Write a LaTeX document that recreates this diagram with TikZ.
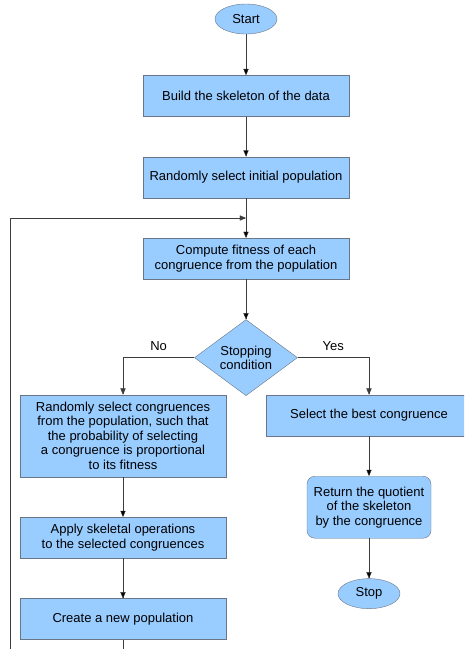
\documentclass[tikz,border=0pt]{standalone}
\usepackage{fontspec}
\setmainfont{Liberation Sans}
\usepackage{tikz}
\usetikzlibrary{calc,arrows,positioning,shapes.geometric}

\definecolor{boxfill}{RGB}{153,204,255}
\definecolor{boxline}{RGB}{105,118,135}
\definecolor{arrline}{RGB}{60,60,60}

\begin{document}
\begin{tikzpicture}[node distance=40pt, auto,
    font=\fontsize{13}{14.5}\selectfont,
    box/.style={draw=boxline, fill=boxfill, rectangle, minimum width=206pt, minimum height=41pt, align=center, inner sep=2pt},
    endpoint/.style={draw=boxline, fill=boxfill, ellipse, minimum width=62pt, minimum height=30pt, inner sep=0pt},
    roundbox/.style={draw=boxline, fill=boxfill, rectangle, rounded corners=8pt, minimum width=124pt, minimum height=62pt, align=center, inner sep=2pt},
    decision/.style={draw=boxline, fill=boxfill, diamond, minimum width=103pt, minimum height=61pt, align=center, inner sep=0pt},
    arr/.style={draw=arrline, -{triangle 45}}]
					\clip (0,0) rectangle (464pt,-649pt);
					\node[endpoint] (start) at (246pt,-19pt) {Start};
					\node[box, below=41pt of start] (build) {Build the skeleton of the data};
					\node[box, below=of build] (rand) {Randomly select initial population};
					\node[box, below=of rand] (fit) {Compute fitness of each\\congruence from the population};
					\node[decision, below=of fit] (cond) {Stopping\\condition};
					\node[box, minimum height=82pt, below=37pt of cond.center, xshift=-123pt] (sel) {Randomly select congruences\\from the population, such that\\the probability of selecting\\a congruence is proportional\\to its fitness};
					\node[box, below=of sel] (apply) {Apply skeletal operations\\to the selected congruences};
					\node[box, below=of apply] (create) {Create a new population};
					\node[box, below=37pt of cond.center, xshift=123pt] (best) {Select the best congruence};
					\node[roundbox, below=of best] (ret) {Return the quotient\\of the skeleton\\by the congruence};
					\node[endpoint, below=of ret] (stop) {Stop};

					\coordinate (join) at ($(rand.south)!0.5!(fit.north)$);
					\coordinate (back) at (10pt,-665pt);

					\path [arr]
						(start) edge (build)
						(build) edge (rand)
						(rand) edge (fit)
						(fit) edge (cond)
						(sel) edge (apply)
						(apply) edge (create)
						(best) edge (ret)
						(ret) edge (stop)
					;
					\draw [arr] (cond.west) -| node[pos=0.25, above=3pt] {No} (sel.north);
					\draw [arr] (cond.east) -| node[pos=0.25, above=3pt] {Yes} (best.north);
					\draw [arr] (create.south) |- (back) |- (join);
                \end{tikzpicture}
\end{document}
